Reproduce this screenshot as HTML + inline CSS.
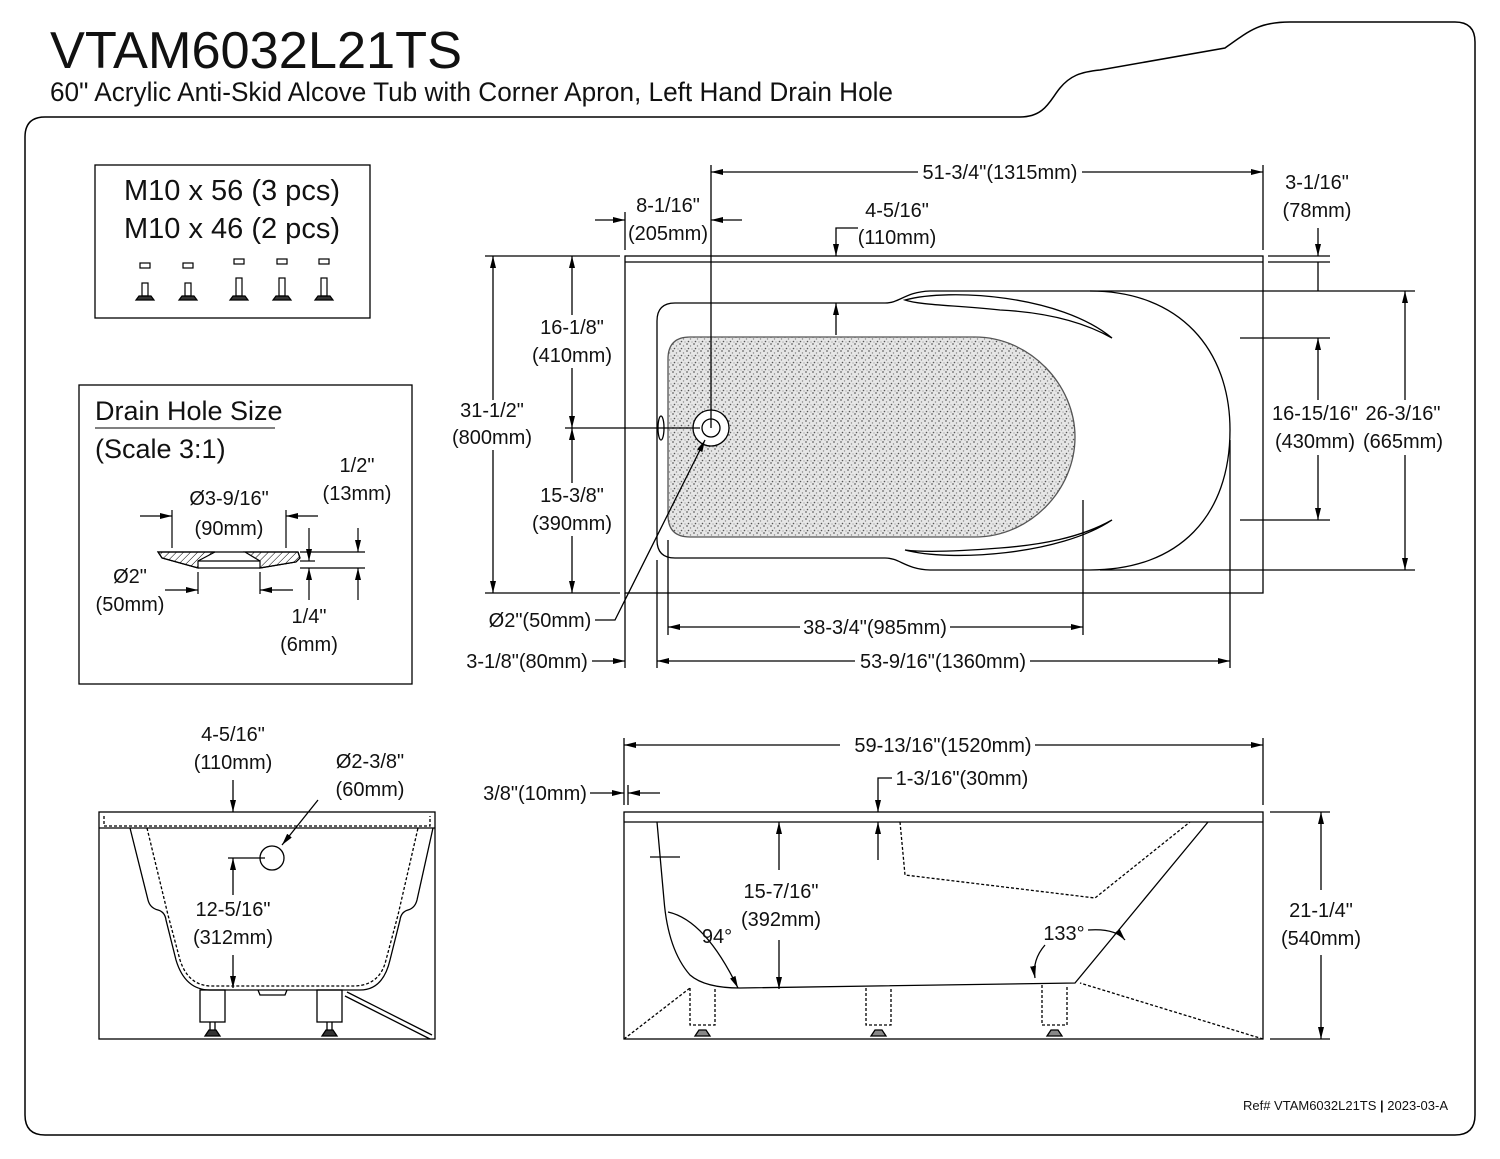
<!DOCTYPE html>
<html><head><meta charset="utf-8"><style>
html,body{margin:0;padding:0;background:#fff}
svg{display:block}
text{font-family:"Liberation Sans",Arial,sans-serif;fill:#111}
.t{font-size:20px;text-anchor:middle}
</style></head><body>
<svg width="1500" height="1159" viewBox="0 0 1500 1159" xmlns="http://www.w3.org/2000/svg">
<defs>
<marker id="a" viewBox="0 0 12 6" refX="12" refY="3" markerWidth="12" markerHeight="6" orient="auto" markerUnits="userSpaceOnUse"><path d="M0,0 L12,3 L0,6z" fill="#000"/></marker>
<pattern id="dots" width="7" height="7" patternUnits="userSpaceOnUse"><rect width="7" height="7" fill="#e6e6e6"/><circle cx="1" cy="1" r="0.9" fill="#666"/><circle cx="4.5" cy="3" r="0.7" fill="#888"/><circle cx="2.5" cy="5.5" r="0.8" fill="#555"/><circle cx="6" cy="6" r="0.6" fill="#999"/></pattern>
<pattern id="hat" width="5" height="5" patternUnits="userSpaceOnUse" patternTransform="rotate(45)"><line x1="0" y1="0" x2="0" y2="5" stroke="#000" stroke-width="1"/></pattern>
</defs>
<g fill="none" stroke="#000" stroke-width="1.3">
<!-- frame -->
<path d="M45,117 L1020,117 C1045,117 1050,100 1060,88 C1070,76 1080,72 1100,70 L1225,48 C1250,30 1260,22 1290,22 L1455,22 Q1475,22 1475,42 L1475,1115 Q1475,1135 1455,1135 L45,1135 Q25,1135 25,1115 L25,137 Q25,117 45,117Z" stroke-width="1.5"/>
<rect x="95" y="165" width="275" height="153"/>
<rect x="79" y="385" width="333" height="299"/>
</g>
<text x="50" y="68" font-size="52" textLength="412" lengthAdjust="spacingAndGlyphs">VTAM6032L21TS</text>
<text x="50" y="101" font-size="27" textLength="843" lengthAdjust="spacingAndGlyphs">60" Acrylic Anti-Skid Alcove Tub with Corner Apron, Left Hand Drain Hole</text>

<!-- hardware -->
<text x="232" y="200" font-size="29" text-anchor="middle">M10 x 56 (3 pcs)</text>
<text x="232" y="238" font-size="29" text-anchor="middle">M10 x 46 (2 pcs)</text>
<g fill="none" stroke="#000" stroke-width="1.2">
<g transform="translate(145,0)"><rect x="-5" y="263" width="10" height="5"/><path d="M-9,300 L9,300 L6,296 L-6,296Z" fill="#333"/><rect x="-3" y="283" width="6" height="13"/></g>
<g transform="translate(188,0)"><rect x="-5" y="263" width="10" height="5"/><path d="M-9,300 L9,300 L6,296 L-6,296Z" fill="#333"/><rect x="-3" y="283" width="6" height="13"/></g>
<g transform="translate(239,0)"><rect x="-5" y="259" width="10" height="5"/><path d="M-9,300 L9,300 L6,296 L-6,296Z" fill="#333"/><rect x="-3" y="278" width="6" height="18"/></g>
<g transform="translate(282,0)"><rect x="-5" y="259" width="10" height="5"/><path d="M-9,300 L9,300 L6,296 L-6,296Z" fill="#333"/><rect x="-3" y="278" width="6" height="18"/></g>
<g transform="translate(324,0)"><rect x="-5" y="259" width="10" height="5"/><path d="M-9,300 L9,300 L6,296 L-6,296Z" fill="#333"/><rect x="-3" y="278" width="6" height="18"/></g>
</g>

<!-- drain detail -->
<text x="95" y="420" font-size="27">Drain Hole Size</text>
<line x1="95" y1="428" x2="275" y2="428" stroke="#000"/>
<text x="95" y="458" font-size="27">(Scale 3:1)</text>
<text class="t" x="229" y="505">Ø3-9/16"</text><text class="t" x="229" y="535">(90mm)</text>
<text class="t" x="357" y="472">1/2"</text><text class="t" x="357" y="500">(13mm)</text>
<text class="t" x="130" y="583">Ø2"</text><text class="t" x="130" y="611">(50mm)</text>
<text class="t" x="309" y="623">1/4"</text><text class="t" x="309" y="651">(6mm)</text>
<g fill="none" stroke="#000" stroke-width="1.2">
<path d="M158,552 L298,552 L300,558 L296,562 L260,568 L198,568 L162,558Z"/>
<path d="M158,552 L215,552 L198,561 L198,568 L162,558Z" fill="url(#hat)"/>
<path d="M245,552 L298,552 L300,558 L296,562 L260,568 L260,561Z" fill="url(#hat)"/>
<line x1="198" y1="561" x2="260" y2="561"/>
<line x1="172" y1="510" x2="172" y2="548"/><line x1="286" y1="510" x2="286" y2="548"/>
<line x1="140" y1="516" x2="172" y2="516" marker-end="url(#a)"/><line x1="318" y1="516" x2="286" y2="516" marker-end="url(#a)"/>
<line x1="198" y1="572" x2="198" y2="594"/><line x1="260" y1="572" x2="260" y2="594"/>
<line x1="165" y1="590" x2="198" y2="590" marker-end="url(#a)"/><line x1="293" y1="590" x2="260" y2="590" marker-end="url(#a)"/>
<line x1="300" y1="552" x2="365" y2="552"/><line x1="300" y1="568" x2="365" y2="568"/><line x1="300" y1="561" x2="315" y2="561"/>
<line x1="358" y1="528" x2="358" y2="552" marker-end="url(#a)"/><line x1="358" y1="600" x2="358" y2="568" marker-end="url(#a)"/>
<line x1="309" y1="528" x2="309" y2="561" marker-end="url(#a)"/><line x1="309" y1="600" x2="309" y2="568" marker-end="url(#a)"/>
</g>

<!-- TOP VIEW -->
<g fill="none" stroke="#000" stroke-width="1.3">
<rect x="625" y="256" width="638" height="337"/>
<line x1="625" y1="262" x2="1263" y2="262"/>
<path d="M675,303 L885,303 C900,303 905,292 930,291 L1090,291 C1180,291 1230,350 1230,430 C1230,515 1180,570 1090,570 L930,570 C905,569 900,558 885,558 L675,558 Q657,558 657,540 L657,321 Q657,303 675,303Z"/>
<path d="M690,337 L975,337 C1030,337 1075,385 1075,437 C1075,490 1030,537 975,537 L690,537 Q668,537 668,515 L668,359 Q668,337 690,337Z" fill="url(#dots)" stroke="#555"/>
<path d="M905,300 C950,288 1060,295 1112,338 C1080,320 1040,312 1000,310 C950,305 920,305 905,300Z"/>
<path d="M905,550 C950,562 1060,555 1112,520 C1080,538 1040,545 1000,548 C950,552 920,552 905,550Z"/>
<ellipse cx="661" cy="428" rx="3" ry="12"/>
<circle cx="711" cy="428" r="18" fill="#fff"/><circle cx="711" cy="428" r="9"/>
<!-- dims -->
<line x1="711" y1="165" x2="711" y2="428"/><line x1="1263" y1="165" x2="1263" y2="250"/>
<line x1="918" y1="172" x2="711" y2="172" marker-end="url(#a)"/><line x1="1082" y1="172" x2="1263" y2="172" marker-end="url(#a)"/>
<line x1="625" y1="212" x2="625" y2="250"/>
<line x1="595" y1="220" x2="625" y2="220" marker-end="url(#a)"/><line x1="742" y1="220" x2="711" y2="220" marker-end="url(#a)"/>
<polyline points="858,228 836,228 836,256" marker-end="url(#a)"/><line x1="836" y1="335" x2="836" y2="303" marker-end="url(#a)"/>
<line x1="1268" y1="256" x2="1330" y2="256"/><line x1="1268" y1="262" x2="1330" y2="262"/>
<line x1="1318" y1="228" x2="1318" y2="256" marker-end="url(#a)"/>
<line x1="485" y1="256" x2="620" y2="256"/><line x1="485" y1="593" x2="620" y2="593"/>
<line x1="493" y1="400" x2="493" y2="256" marker-end="url(#a)"/><line x1="493" y1="450" x2="493" y2="593" marker-end="url(#a)"/>
<line x1="565" y1="428" x2="700" y2="428"/>
<line x1="572" y1="315" x2="572" y2="256" marker-end="url(#a)"/><line x1="572" y1="368" x2="572" y2="428" marker-end="url(#a)"/>
<line x1="572" y1="483" x2="572" y2="428" marker-end="url(#a)"/><line x1="572" y1="536" x2="572" y2="593" marker-end="url(#a)"/>
<line x1="1090" y1="291" x2="1415" y2="291"/><line x1="1100" y1="570" x2="1415" y2="570"/>
<line x1="1240" y1="338" x2="1330" y2="338"/><line x1="1240" y1="520" x2="1330" y2="520"/>
<line x1="1318" y1="400" x2="1318" y2="338" marker-end="url(#a)"/><line x1="1318" y1="455" x2="1318" y2="520" marker-end="url(#a)"/>
<line x1="1405" y1="400" x2="1405" y2="291" marker-end="url(#a)"/><line x1="1405" y1="455" x2="1405" y2="570" marker-end="url(#a)"/>
<line x1="1318" y1="262" x2="1318" y2="291"/>
<line x1="668" y1="540" x2="668" y2="635"/><line x1="1083" y1="500" x2="1083" y2="635"/>
<line x1="657" y1="560" x2="657" y2="668"/><line x1="1230" y1="440" x2="1230" y2="668"/><line x1="625" y1="593" x2="625" y2="668"/>
<line x1="800" y1="627" x2="668" y2="627" marker-end="url(#a)"/><line x1="950" y1="627" x2="1083" y2="627" marker-end="url(#a)"/>
<line x1="855" y1="661" x2="657" y2="661" marker-end="url(#a)"/><line x1="1030" y1="661" x2="1230" y2="661" marker-end="url(#a)"/>
<line x1="592" y1="661" x2="625" y2="661" marker-end="url(#a)"/>
<polyline points="595,620 615,620 705,440" marker-end="url(#a)"/>
</g>
<text class="t" x="1000" y="179">51-3/4"(1315mm)</text>
<text class="t" x="1317" y="189">3-1/16"</text><text class="t" x="1317" y="217">(78mm)</text>
<text class="t" x="668" y="212">8-1/16"</text><text class="t" x="668" y="240">(205mm)</text>
<text class="t" x="897" y="217">4-5/16"</text><text class="t" x="897" y="244">(110mm)</text>
<text class="t" x="492" y="417">31-1/2"</text><text class="t" x="492" y="444">(800mm)</text>
<text class="t" x="572" y="334">16-1/8"</text><text class="t" x="572" y="362">(410mm)</text>
<text class="t" x="572" y="502">15-3/8"</text><text class="t" x="572" y="530">(390mm)</text>
<text class="t" x="1315" y="420">16-15/16"</text><text class="t" x="1315" y="448">(430mm)</text>
<text class="t" x="1403" y="420">26-3/16"</text><text class="t" x="1403" y="448">(665mm)</text>
<text class="t" x="540" y="627">Ø2"(50mm)</text>
<text class="t" x="875" y="634">38-3/4"(985mm)</text>
<text class="t" x="943" y="668">53-9/16"(1360mm)</text>
<text class="t" x="527" y="668">3-1/8"(80mm)</text>

<!-- FRONT VIEW (left) -->
<g fill="none" stroke="#000" stroke-width="1.3">
<rect x="99" y="812" width="336" height="227"/>
<line x1="99" y1="828" x2="435" y2="828"/>
<path d="M104,816 L104,826 L430,826 L430,816" stroke-dasharray="3,2"/>
<path d="M130,828 L148,900 Q150,908 158,910 Q165,912 166,920 L176,960 Q185,990 210,990 L360,990 Q383,990 390,960 L400,920 Q401,912 408,910 Q415,908 417,900 L433,828"/>
<path d="M147,828 L168,915 L180,960 Q188,985 210,986 L355,986 Q380,985 386,960 L398,915 L418,828" stroke-dasharray="3,2"/>
<path d="M258,990 L260,995 L285,995 L287,990"/>
<rect x="200" y="990" width="25" height="32"/><rect x="317" y="990" width="25" height="32"/>
<path d="M205,1036 L220,1036 L216,1030 L209,1030Z M210,1022 L210,1030 M215,1022 L215,1030" fill="#333"/>
<path d="M322,1036 L337,1036 L333,1030 L326,1030Z M327,1022 L327,1030 M332,1022 L332,1030" fill="#333"/>
<path d="M347,992 L432,1035 M345,996 L430,1039"/>
<circle cx="272" cy="858" r="12"/>
<line x1="228" y1="858" x2="265" y2="858"/>
<line x1="233" y1="780" x2="233" y2="812" marker-end="url(#a)"/>
<line x1="318" y1="800" x2="282" y2="845" marker-end="url(#a)"/>
<line x1="233" y1="895" x2="233" y2="858" marker-end="url(#a)"/>
<line x1="233" y1="955" x2="233" y2="988" marker-end="url(#a)"/>
</g>
<text class="t" x="233" y="741">4-5/16"</text><text class="t" x="233" y="769">(110mm)</text>
<text class="t" x="370" y="768">Ø2-3/8"</text><text class="t" x="370" y="796">(60mm)</text>
<text class="t" x="233" y="916">12-5/16"</text><text class="t" x="233" y="944">(312mm)</text>

<!-- SIDE VIEW -->
<g fill="none" stroke="#000" stroke-width="1.3">
<rect x="624" y="812" width="639" height="227"/>
<line x1="624" y1="822" x2="1263" y2="822"/>
<path d="M657,822 L664,900 Q668,950 690,975 Q705,988 740,988 L1075,983 L1208,822"/>
<path d="M900,822 L905,875 L1095,898 L1190,822" stroke-dasharray="3,2"/>
<path d="M624,1039 L690,988 M1263,1039 L1080,983" stroke-dasharray="3,2"/>
<path d="M690,988 L690,1025 L715,1025 L715,988 M866,988 L866,1025 L891,1025 L891,988 M1042,985 L1042,1025 L1067,1025 L1067,985" stroke-dasharray="3,2"/>
<path d="M695,1036 L710,1036 L706,1030 L699,1030Z M871,1036 L886,1036 L882,1030 L875,1030Z M1047,1036 L1062,1036 L1058,1030 L1051,1030Z" fill="#888"/>
<line x1="650" y1="857" x2="680" y2="857"/>
<line x1="624" y1="738" x2="624" y2="805"/><line x1="1263" y1="738" x2="1263" y2="805"/>
<line x1="840" y1="745" x2="624" y2="745" marker-end="url(#a)"/><line x1="1035" y1="745" x2="1263" y2="745" marker-end="url(#a)"/>
<line x1="628" y1="785" x2="628" y2="805"/>
<line x1="590" y1="793" x2="624" y2="793" marker-end="url(#a)"/><line x1="660" y1="793" x2="628" y2="793" marker-end="url(#a)"/>
<polyline points="892,778 878,778 878,812" marker-end="url(#a)"/><line x1="878" y1="860" x2="878" y2="822" marker-end="url(#a)"/>
<line x1="779" y1="870" x2="779" y2="822" marker-end="url(#a)"/><line x1="779" y1="940" x2="779" y2="989" marker-end="url(#a)"/>
<line x1="1270" y1="812" x2="1330" y2="812"/><line x1="1270" y1="1039" x2="1330" y2="1039"/>
<line x1="1321" y1="890" x2="1321" y2="812" marker-end="url(#a)"/><line x1="1321" y1="955" x2="1321" y2="1039" marker-end="url(#a)"/>
<path d="M668,912 Q705,920 738,988" marker-end="url(#a)"/>
<path d="M1088,930 Q1115,928 1125,940" marker-end="url(#a)"/>
<path d="M1045,945 Q1032,960 1035,978" marker-end="url(#a)"/>
</g>
<text class="t" x="943" y="752">59-13/16"(1520mm)</text>
<text class="t" x="535" y="800">3/8"(10mm)</text>
<text class="t" x="962" y="785">1-3/16"(30mm)</text>
<text class="t" x="781" y="898">15-7/16"</text><text class="t" x="781" y="926">(392mm)</text>
<text class="t" x="1321" y="917">21-1/4"</text><text class="t" x="1321" y="945">(540mm)</text>
<text class="t" x="717" y="943">94°</text>
<text class="t" x="1064" y="940">133°</text>
<text x="1448" y="1110" font-size="13" text-anchor="end">Ref# VTAM6032L21TS <tspan font-weight="bold">|</tspan> 2023-03-A</text>
</svg>
</body></html>
